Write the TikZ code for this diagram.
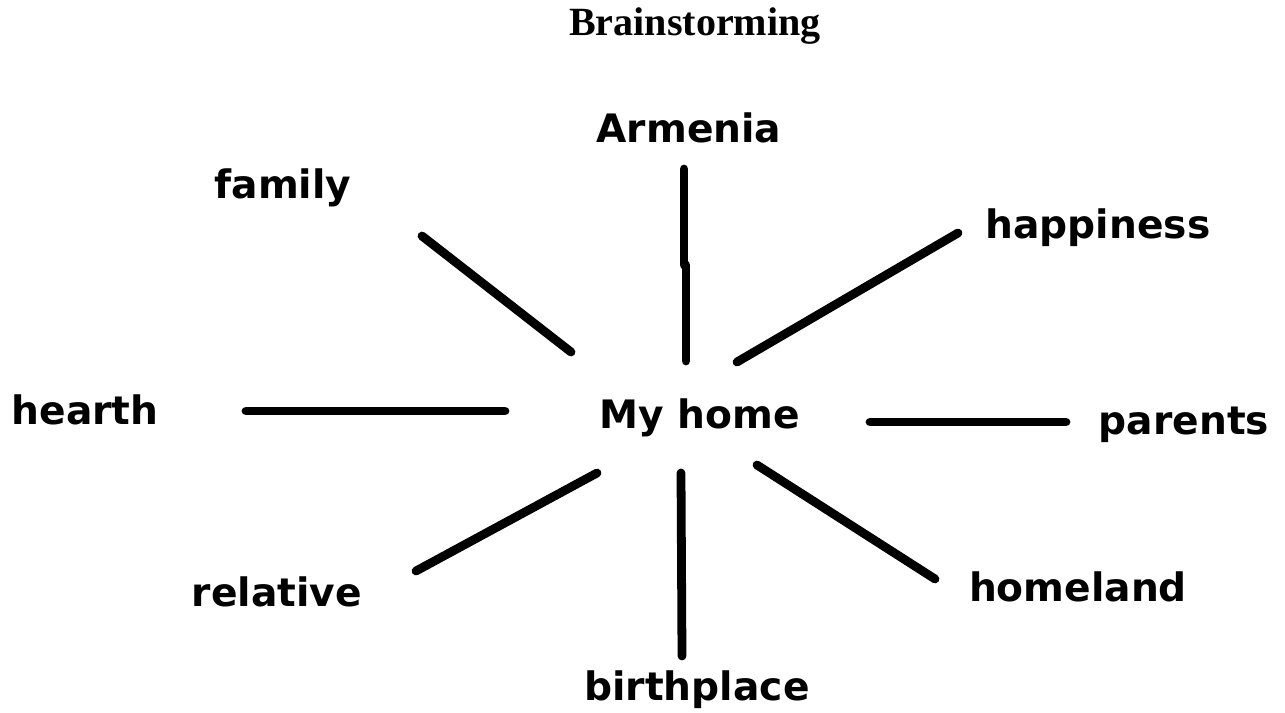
\documentclass[tikz,border=0pt]{standalone}
\usepackage{fontspec}
\setmainfont{DejaVu Sans}
\newfontfamily\titlefont{Liberation Serif}
\usetikzlibrary{positioning}

\begin{document}
\begin{tikzpicture}[x=0.02cm,y=-0.02cm,
  word/.style={font=\fontsize{22.3}{27}\selectfont\bfseries,inner sep=0pt},
  spoke/.style={line width=5pt,line cap=round}]
\useasboundingbox (0,0) rectangle (1285,713);
\node (title) at (695,26) {\titlefont\fontsize{22.8}{26}\selectfont\bfseries Brainstorming};
\node[word] (home) at (700,418) {My home};
\node[word] (armenia) at (689,128) {Armenia};
\node[word] (family) at (283,188) {family};
\node[word] (happy) at (1098,228) {happiness};
\node[word] (hearth) at (85,410) {hearth};
\node[word] (parents) at (1184,425) {parents};
\node[word] (relative) at (277,592) {relative};
\node[word] (homeland) at (1078,587) {homeland};
\node[word] (birth) at (697,690) {birthplace};
\coordinate (a1) at (684,169);
\coordinate (a2) at (684,265);
\coordinate (a3) at (686,265);
\coordinate (a4) at (686,361);
\coordinate (f1) at (422,236);
\coordinate (f2) at (571,352);
\coordinate (h1) at (958,233);
\coordinate (h2) at (737,362);
\coordinate (e1) at (246,411);
\coordinate (e2) at (505,411);
\coordinate (p1) at (870,422);
\coordinate (p2) at (1066,422);
\coordinate (r1) at (416,571);
\coordinate (r2) at (597,473);
\coordinate (b1) at (681,473);
\coordinate (b2) at (682,656);
\coordinate (l1) at (757,465);
\coordinate (l2) at (935,579);
\draw[spoke] (a1) -- (a2);
\draw[spoke] (a3) -- (a4);
\draw[spoke] (f1) -- (f2);
\draw[spoke] (h1) -- (h2);
\draw[spoke] (e1) -- (e2);
\draw[spoke] (p1) -- (p2);
\draw[spoke] (r1) -- (r2);
\draw[spoke] (b1) -- (b2);
\draw[spoke] (l1) -- (l2);
\end{tikzpicture}
\end{document}
